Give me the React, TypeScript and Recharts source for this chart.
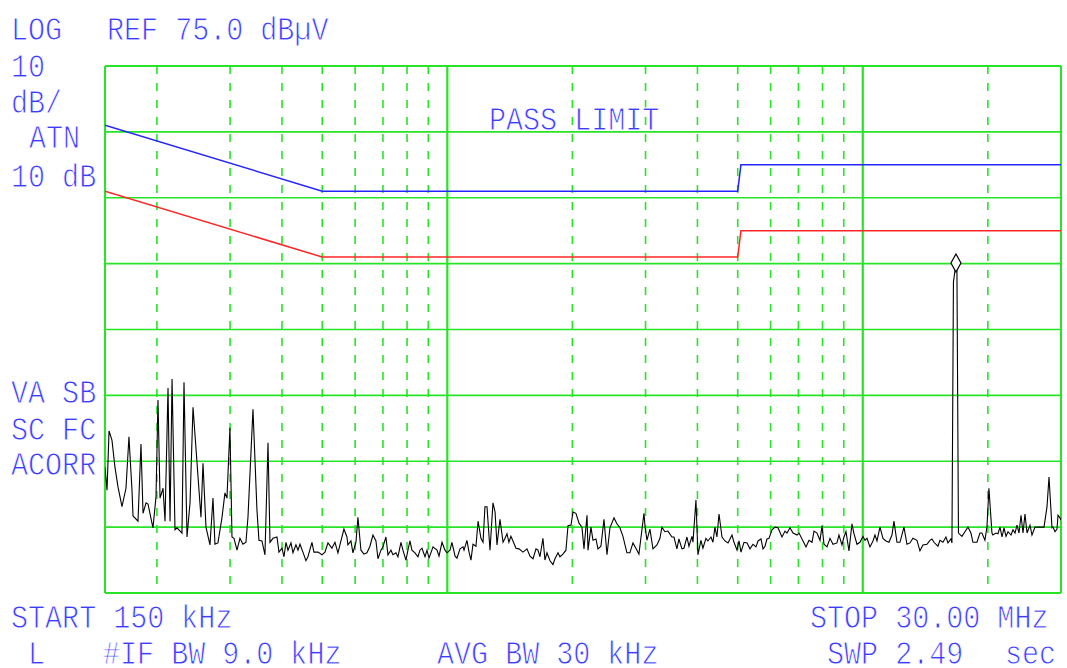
import { ComposedChart, Line, Scatter, XAxis, YAxis, ReferenceLine } from "recharts";

// display: 150 kHz .. 30 MHz (log), ref 75 dBuV, 10 dB/div, 8 divisions
const freqRange = [150, 30000]; // kHz
const levelRange = [-5, 75]; // dBuV

// graticule
const decadeLines = [1000, 10000];
const minorFreqLines = [200, 300, 400, 500, 600, 700, 800, 900, 2000, 3000, 4000, 5000, 6000, 7000, 8000, 9000, 20000];
const levelLines = [5, 15, 25, 35, 45, 55, 65];

// CISPR class B limits
const limitFreq = [150, 500, 5000, 5090, 30000];
const qpLimit = [66, 56, 56, 60, 60];
const avgLimit = [56, 46, 46, 50, 50];

// measured trace: [kHz, dBuV]
const trace: [number, number][] = [
  [150, 14.1], [151.7, 10.6], [153.4, 19.6], [155.9, 18.2], [158.5, 14.1], [161.2, 11.1], [164.8, 8.1],
  [168.5, 10.9], [171.3, 18.7], [174.2, 10.6], [175.2, 6.7], [180.1, 5.9], [183.1, 17.6], [185.2, 7.1],
  [188.3, 8.7], [190.4, 8.5], [194.6, 5.6], [195.7, 4.9], [199.0, 9.6], [201.2, 24.3], [203.5, 9.4],
  [206.9, 10.9], [209.2, 5.9], [212.7, 26.1], [215.1, 5.9], [217.5, 27.5], [221.1, 4.6], [223.6, 4.9],
  [229.8, 4.1], [232.4, 27.0], [236.3, 3.5], [240.3, 8.7], [244.3, 23.2], [249.7, 14.9], [255.3, 6.5],
  [258.2, 14.7], [262.5, 5.0], [268.4, 2.3], [272.9, 9.4], [275.9, 2.4], [280.5, 2.6], [286.8, 6.4],
  [291.6, 10.2], [294.9, 9.4], [299.8, 20.1], [303.2, 3.5], [306.6, 3.3], [311.7, 1.5], [316.9, 3.3],
  [322.2, 2.4], [327.6, 2.7], [331.3, 6.5], [340.6, 22.9], [348.2, 7.6], [352.1, 3.0], [358.0, 2.9],
  [364.0, 0.8], [370.2, 17.8], [374.3, 2.7],
  [380.5, 3.3], [389.1, 3.5], [393.4, 1.2], [400, 1.8], [404.5, 0.5], [409.0, 2.7], [413.5, 1.5],
  [420.5, 2.6], [425.1, 1.1], [432.2, 2.3], [437.1, 1.5], [442.0, 2.4], [449.3, 1.2], [456.8, -0.1],
  [461.9, 0.5], [472.3, 2.7], [477.5, 1.2], [488.3, 1.2], [499.2, 0.8], [507.6, 1.2], [516.1, 2.6],
  [527.6, 1.8], [536.5, 2.7], [545.5, 1.1], [554.6, 2.9], [563.9, 4.7], [573.4, 3.5], [576.5, 2.3],
  [586.2, 2.9], [592.7, 1.1], [602.7, 2.7], [609.4, 6.5], [619.6, 1.5], [630.0, 0.9], [640.6, 1.1],
  [651.3, 2.1], [662.3, 3.8], [673.4, 2.9], [680.9, 0.2], [692.3, 1.5], [700, 2.0], [711.7, 3.5],
  [719.7, 0.8], [731.7, 1.5], [739.9, 0.8], [752.3, 1.1], [760.7, 0.5], [773.4, 2.7], [782.0, 1.5],
  [795.1, 0.0], [804.0, 1.5], [813.0, 2.9], [822.0, 1.5], [835.8, 1.1], [849.8, 0.5], [859.5, 1.5],
  [869.1, 1.8], [883.7, 0.5], [893.5, 1.5], [903.5, 0.3],
  [923.8, 2.0], [944.5, 1.5], [955.0, 0.6], [971.1, 2.7], [987.3, 1.5], [998.3, 1.1], [1015, 1.5],
  [1026, 2.7], [1044, 0.6], [1055, 0.3], [1073, 1.7], [1091, 2.0], [1097, 1.5], [1115, 3.0],
  [1128, 1.2], [1140, 0.0], [1153, 2.4], [1172, 2.1], [1186, 5.9], [1205, 3.3], [1219, 2.7],
  [1232, 8.1], [1246, 8.1], [1267, 1.5], [1288, 8.7], [1303, 7.3], [1317, 2.3], [1339, 6.2],
  [1362, 2.7], [1377, 3.3], [1392, 4.0], [1407, 2.7], [1423, 3.6], [1439, 2.9], [1463, 1.8],
  [1488, 1.7], [1521, 1.2], [1555, 1.7], [1581, 0.6], [1608, 0.2], [1635, 1.7], [1653, 1.5],
  [1671, 0.5], [1699, 3.3], [1718, 0.0], [1737, 1.1], [1767, -0.1], [1796, -0.7], [1816, 0.2],
  [1847, 1.1], [1867, 0.5], [1898, 0.9], [1930, 1.5], [1952, 5.2], [1985, 5.3], [2007, 7.3],
  [2040, 7.1], [2075, 5.6], [2109, 5.0], [2133, 1.7], [2169, 6.8], [2181, 1.5], [2217, 5.0],
  [2242, 3.0], [2279, 3.2], [2305, 1.7],
  [2343, 2.1], [2383, 6.2], [2423, 0.8], [2463, 4.9], [2519, 6.4], [2560, 5.5], [2603, 4.9],
  [2647, 3.6], [2706, 1.1], [2751, 1.1], [2798, 2.6], [2861, 1.5], [2892, 0.9], [2941, 4.6],
  [2974, 7.1], [2990, 5.3], [3023, 3.0], [3074, 4.7], [3126, 1.7], [3196, 2.3], [3249, 3.3],
  [3285, 5.0], [3340, 4.3], [3396, 4.4], [3473, 3.5], [3512, 3.5], [3570, 1.7], [3610, 3.2],
  [3671, 1.7], [3712, 1.8], [3774, 3.5], [3816, 2.1], [3880, 3.6], [3902, 2.7], [3967, 9.1],
  [4011, 0.8], [4078, 3.0], [4124, 1.8], [4193, 3.3], [4240, 2.9], [4311, 3.5], [4359, 2.7],
  [4407, 5.0], [4456, 3.5], [4508, 7.0], [4583, 3.5], [4660, 2.9], [4739, 2.6], [4844, 3.8],
  [4899, 2.7], [4981, 1.5], [5036, 2.9], [5092, 1.2], [5178, 2.7], [5265, 2.6], [5353, 1.7],
  [5442, 2.4], [5533, 2.0], [5596, 2.9], [5689, 3.2], [5753, 1.7], [5817, 2.1],
  [5881, 3.2], [5947, 3.3], [6047, 4.6], [6148, 5.0], [6251, 4.9], [6392, 3.5], [6499, 4.4],
  [6571, 4.1], [6681, 4.9], [6794, 4.1], [6946, 3.8], [7023, 4.1], [7181, 2.9], [7301, 2.0],
  [7423, 3.0], [7548, 2.7], [7632, 4.4], [7760, 4.1], [7890, 3.0], [7978, 5.2], [8066, 2.4],
  [8202, 2.0], [8339, 3.3], [8479, 2.4], [8667, 2.6], [8764, 3.8], [8911, 2.3], [9010, 3.5],
  [9111, 4.3], [9264, 1.4], [9419, 5.5], [9524, 4.0], [9684, 2.4], [9846, 2.7], [10011, 3.6],
  [10123, 3.0], [10235, 3.3], [10407, 2.0], [10582, 2.9], [10700, 3.8], [10819, 2.9], [11000, 5.0],
  [11185, 3.3], [11372, 2.9], [11563, 2.7], [11757, 3.8], [11887, 5.9], [12087, 2.7], [12289, 2.7],
  [12565, 5.0], [12775, 2.4], [12990, 2.6], [13207, 3.3], [13503, 3.0], [13728, 1.4], [13958, 2.3],
  [14272, 2.4], [14510, 3.0],
  [14672, 3.2], [14836, 2.7], [15168, 2.1], [15338, 3.0], [15594, 2.7], [15856, 3.5], [16032, 2.6],
  [16302, 3.2], [16392, 2.6], [16528, 42.2], [16760, 45.1], [16852, 44.0], [16994, 4.1], [17326, 3.6],
  [17616, 4.3], [17912, 5.0], [18212, 4.1], [18414, 2.7], [18828, 2.7], [19144, 4.1], [19356, 4.1],
  [19682, 3.0], [19900, 5.0], [20122, 10.9], [20460, 4.1], [20574, 3.8], [20918, 4.1], [21152, 4.0],
  [21396, 5.0], [21633, 3.5], [21876, 4.9], [22119, 3.6], [22365, 4.3], [22740, 3.8], [22992, 4.6],
  [23250, 4.1], [23508, 5.3], [23772, 4.1], [24036, 6.8], [24303, 4.1], [24573, 7.0], [24849, 4.1],
  [25266, 5.3], [25545, 3.8], [25974, 5.0], [26409, 5.0], [27003, 5.0], [27303, 5.0], [27762, 8.1],
  [28071, 12.6], [28539, 4.9], [28698, 5.0], [29019, 4.3], [29343, 4.7], [29505, 6.8], [29835, 6.4],
  [30000, 6.1],
];

// marker on the highest signal
const marker = [{ f: 16760, db: 45.1 }];

const GRID = "#27e427";
const TEXT = "#3c3cff";

const traceData = trace.map(([f, db]) => ({ f, db }));
const qpData = limitFreq.map((f, i) => ({ f, db: qpLimit[i] }));
const avgData = limitFreq.map((f, i) => ({ f, db: avgLimit[i] }));

function Diamond(props: any) {
  const { cx, cy } = props;
  return (
    <path
      d={`M${cx},${cy - 9} L${cx + 5},${cy} L${cx},${cy + 9} L${cx - 5},${cy} Z`}
      fill="#fff"
      stroke="#000"
      strokeWidth={1.2}
    />
  );
}

// annotation text: monospace squeezed to ~17.5px per character, thinned with a white edge
function Label({ x, y, children }: { x: number; y: number; children: string }) {
  return (
    <g transform={`translate(${x},${y}) scale(0.835,1)`}>
      <text
        x={0}
        y={0}
        fill={TEXT}
        stroke="#fff"
        strokeWidth={0.9}
        fontSize={34}
        fontFamily="'Liberation Mono', monospace"
        style={{ whiteSpace: "pre" }}
      >
        {children}
      </text>
    </g>
  );
}

export default function App() {
  return (
    <div style={{ position: "absolute", left: 0, top: 0, width: 1067, height: 668, background: "#fff" }}>
      <ComposedChart
        width={1067}
        height={668}
        margin={{ top: 66, right: 6, bottom: 75, left: 105 }}
      >
        <XAxis type="number" dataKey="f" scale="log" domain={freqRange} allowDataOverflow hide />
        <YAxis type="number" dataKey="db" domain={levelRange} allowDataOverflow hide />

        {minorFreqLines.map((f) => (
          <ReferenceLine
            key={`m${f}`}
            segment={[{ x: f, y: 75 }, { x: f, y: -5 }]}
            stroke={GRID}
            strokeWidth={1.6}
            strokeDasharray="8 9"
          />
        ))}
        {levelLines.map((v) => (
          <ReferenceLine key={`h${v}`} y={v} stroke={GRID} strokeWidth={1.6} />
        ))}
        {decadeLines.map((f) => (
          <ReferenceLine key={`d${f}`} x={f} stroke={GRID} strokeWidth={2.2} />
        ))}
        <ReferenceLine y={75} stroke={GRID} strokeWidth={2} />
        <ReferenceLine y={-5} stroke={GRID} strokeWidth={2} />
        <ReferenceLine x={150} stroke={GRID} strokeWidth={2} />
        <ReferenceLine x={30000} stroke={GRID} strokeWidth={2} />

        <Line data={qpData} dataKey="db" type="linear" stroke="#2424ff" strokeWidth={1.5} dot={false} isAnimationActive={false} />
        <Line data={avgData} dataKey="db" type="linear" stroke="#ff2626" strokeWidth={1.5} dot={false} isAnimationActive={false} />
        <Line data={traceData} dataKey="db" type="linear" stroke="#000" strokeWidth={1.1} dot={false} isAnimationActive={false} />
        <Scatter data={marker} dataKey="db" shape={<Diamond />} isAnimationActive={false} />
      </ComposedChart>

      <svg width={1067} height={668} style={{ position: "absolute", left: 0, top: 0 }}>
        <Label x={11} y={40}>LOG</Label>
        <Label x={107} y={40}>REF 75.0 dBµV</Label>
        <Label x={11} y={77}>10</Label>
        <Label x={11} y={113}>dB/</Label>
        <Label x={29} y={148}>ATN</Label>
        <Label x={11} y={187}>10 dB</Label>
        <Label x={11} y={403}>VA SB</Label>
        <Label x={11} y={440}>SC FC</Label>
        <Label x={11} y={475}>ACORR</Label>
        <Label x={489} y={130}>PASS LIMIT</Label>
        <Label x={11} y={628}>START 150 kHz</Label>
        <Label x={810} y={628}>STOP 30.00 MHz</Label>
        <Label x={28} y={664}>L</Label>
        <Label x={103} y={664}>#IF BW 9.0 kHz</Label>
        <Label x={437} y={664}>AVG BW 30 kHz</Label>
        <Label x={827} y={664}>SWP 2.49</Label>
        <Label x={1005} y={664}>sec</Label>
      </svg>
    </div>
  );
}
